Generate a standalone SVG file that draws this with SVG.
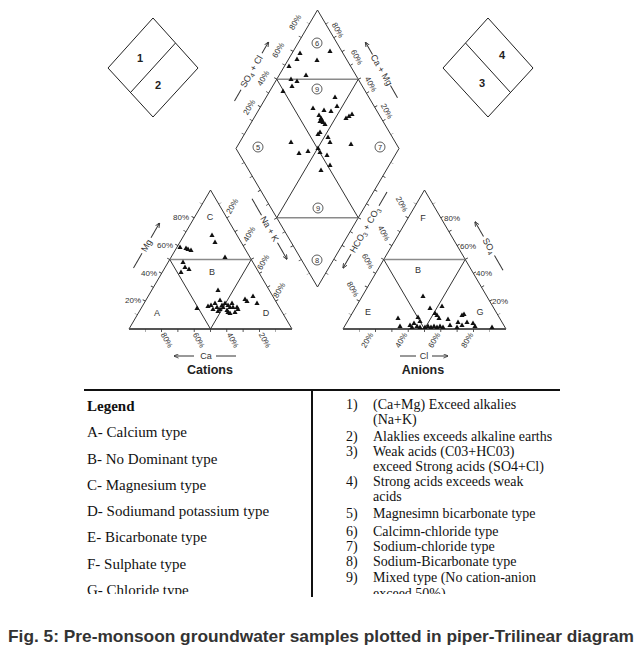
<svg xmlns="http://www.w3.org/2000/svg" xmlns:xlink="http://www.w3.org/1999/xlink" width="642" height="656" viewBox="0 0 642 656">
<style>
.ln{stroke:#333;stroke-width:1;fill:none}
.hl{stroke:#8a8a8a;stroke-width:1.6}
.bs{stroke:#555;stroke-width:2}
.tk{stroke:#333;stroke-width:3;fill:none;stroke-dasharray:0.8 15.3;stroke-dashoffset:0.4}
.tkb{stroke:#333;stroke-width:3;fill:none;stroke-dasharray:0.8 15.5;stroke-dashoffset:0.4}
.pc{font-family:"Liberation Sans",Arial,sans-serif;font-size:8px;fill:#333}
.ax{font-family:"Liberation Sans",Arial,sans-serif;font-size:9px;fill:#333}
.rg{font-family:"Liberation Sans",Arial,sans-serif;font-size:9px;fill:#333;text-anchor:middle}
.cn{font-family:"Liberation Sans",Arial,sans-serif;font-size:7.5px;fill:#333;text-anchor:middle}
.cc{fill:none;stroke:#333;stroke-width:0.8}
.kd{stroke:#222;stroke-width:1;fill:none}
.kn{font-family:"Liberation Sans",Arial,sans-serif;font-size:11px;font-weight:bold;fill:#222;text-anchor:middle}
.lg{font-family:"Liberation Serif","Times New Roman",serif;font-size:15px;fill:#111}
.lr{font-family:"Liberation Serif","Times New Roman",serif;font-size:14px;fill:#111}
.tt{font-family:"Liberation Sans",Arial,sans-serif;font-size:12.5px;font-weight:bold;fill:#222;text-anchor:middle}
.pt{fill:#111}
</style>
<defs>
<path id="t" d="M0,-2.6 L2.6,2 L-2.6,2 Z" class="pt"/>
<marker id="ah" viewBox="0 0 6 6" refX="5.5" refY="3" markerWidth="5" markerHeight="5" markerUnits="userSpaceOnUse" orient="auto-start-reverse">
<path d="M0,0.5 L6,3 L0,5.5" fill="none" stroke="#333" stroke-width="1"/>
</marker>
<clipPath id="lgclip"><rect x="0" y="380" width="642" height="214"/></clipPath>
</defs>
<rect width="642" height="656" fill="#fff"/>

<g id="key-cations">
<path class="kd" d="M153,18 L198,68 L153,117 L108,68 Z M175.5,43 L130.5,92.5"/>
<text class="kn" x="140" y="62">1</text>
<text class="kn" x="158" y="89">2</text>
</g>
<g id="key-anions">
<path class="kd" d="M488,18 L533,68 L488,117 L443,68 Z M465.5,43 L510.5,92.5"/>
<text class="kn" x="502" y="59">4</text>
<text class="kn" x="482" y="87">3</text>
</g>

<g id="diamond">
<path class="ln" d="M317.5,10 L399,148.5 L317.5,287 L236,148.5 Z"/>
<line class="hl" x1="276.75" y1="79.25" x2="358.25" y2="79.25"/>
<line class="hl" x1="276.75" y1="217.75" x2="358.25" y2="217.75"/>
<path class="ln" d="M276.75,79.25 L358.25,217.75 M358.25,79.25 L276.75,217.75"/>
<line class="tk" x1="242.86" y1="133.89" x2="308.06" y2="23.09"/>
<line class="tk" x1="326.94" y1="23.09" x2="392.14" y2="133.89"/>
<line class="tk" x1="242.86" y1="163.11" x2="308.06" y2="273.91"/>
<line class="tk" x1="326.94" y1="273.91" x2="392.14" y2="163.11"/>
<g>
<circle class="cc" cx="317" cy="43" r="5"/><text class="cn" x="317" y="45.7">6</text>
<circle class="cc" cx="317" cy="89" r="5"/><text class="cn" x="317" y="91.7">9</text>
<circle class="cc" cx="258" cy="147" r="5"/><text class="cn" x="258" y="149.7">5</text>
<circle class="cc" cx="380" cy="147" r="5"/><text class="cn" x="380" y="149.7">7</text>
<circle class="cc" cx="318" cy="208" r="5"/><text class="cn" x="318" y="210.7">9</text>
<circle class="cc" cx="317" cy="260" r="5"/><text class="cn" x="317" y="262.7">8</text>
</g>
<g text-anchor="middle">
<text class="pc" transform="translate(295,22) rotate(-60)" y="3">80%</text>
<text class="pc" transform="translate(278,50) rotate(-60)" y="3">60%</text>
<text class="pc" transform="translate(263,78) rotate(-60)" y="3">40%</text>
<text class="pc" transform="translate(249,107) rotate(-60)" y="3">20%</text>
<text class="pc" transform="translate(338,30) rotate(60)" y="3">80%</text>
<text class="pc" transform="translate(357,57) rotate(60)" y="3">60%</text>
<text class="pc" transform="translate(371,84) rotate(60)" y="3">40%</text>
<text class="pc" transform="translate(387,111) rotate(60)" y="3">20%</text>
</g>
<g>
<use href="#t" x="330" y="51"/><use href="#t" x="300" y="53"/><use href="#t" x="297" y="59"/><use href="#t" x="317" y="60"/>
<use href="#t" x="289" y="66"/><use href="#t" x="306" y="75"/><use href="#t" x="291" y="79"/><use href="#t" x="297" y="81"/>
<use href="#t" x="292" y="86"/><use href="#t" x="283" y="91"/><use href="#t" x="335" y="97"/><use href="#t" x="313" y="108"/>
<use href="#t" x="324" y="110"/><use href="#t" x="331" y="111"/><use href="#t" x="337" y="106"/><use href="#t" x="319" y="115"/>
<use href="#t" x="321" y="118"/><use href="#t" x="322" y="120"/><use href="#t" x="323" y="122"/><use href="#t" x="325" y="124"/>
<use href="#t" x="320" y="121"/><use href="#t" x="346" y="118"/><use href="#t" x="349" y="116"/><use href="#t" x="352" y="114"/>
<use href="#t" x="320" y="132"/><use href="#t" x="318" y="134"/><use href="#t" x="328" y="137"/><use href="#t" x="330" y="142"/>
<use href="#t" x="291" y="142"/><use href="#t" x="299" y="153"/><use href="#t" x="308" y="151"/><use href="#t" x="318" y="148"/>
<use href="#t" x="320" y="152"/><use href="#t" x="327" y="155"/><use href="#t" x="351" y="144"/><use href="#t" x="330" y="165"/>
<use href="#t" x="321" y="170"/>
</g>
</g>

<g id="cations-triangle">
<path class="ln" d="M129,329 L210.5,190 L292,329"/>
<line class="bs" x1="129" y1="329" x2="292" y2="329"/>
<line class="hl" x1="169.75" y1="259.5" x2="251.25" y2="259.5"/>
<path class="ln" d="M169.75,259.5 L210.5,329 L251.25,259.5"/>
<line class="tkb" x1="145.3" y1="330.5" x2="275.7" y2="330.5"/>
<line class="tk" x1="135.86" y1="314.34" x2="201.06" y2="203.14"/>
<line class="tk" x1="219.94" y1="203.14" x2="285.14" y2="314.34"/>
<text class="rg" x="210" y="220">C</text>
<text class="rg" x="212" y="275">B</text>
<text class="rg" x="157" y="316">A</text>
<text class="rg" x="266" y="316">D</text>
<g text-anchor="end">
<text class="pc" x="189" y="220">80%</text>
<text class="pc" x="173" y="248">60%</text>
<text class="pc" x="157" y="276">40%</text>
<text class="pc" x="141" y="303">20%</text>
</g>
<g text-anchor="middle">
<text class="pc" transform="translate(232,206) rotate(-60)" y="3">20%</text>
<text class="pc" transform="translate(249,234) rotate(-60)" y="3">40%</text>
<text class="pc" transform="translate(263,262) rotate(-60)" y="3">60%</text>
<text class="pc" transform="translate(279,290) rotate(-60)" y="3">80%</text>
<text class="pc" transform="translate(167,340) rotate(60)" y="3">80%</text>
<text class="pc" transform="translate(199,340) rotate(60)" y="3">60%</text>
<text class="pc" transform="translate(233,340) rotate(60)" y="3">40%</text>
<text class="pc" transform="translate(265,340) rotate(60)" y="3">20%</text>
</g>
<text class="tt" x="210" y="374">Cations</text>
<g>
<use href="#t" x="212" y="235"/><use href="#t" x="215" y="242"/><use href="#t" x="180" y="247"/><use href="#t" x="186" y="248"/>
<use href="#t" x="188" y="249"/><use href="#t" x="191" y="250"/><use href="#t" x="225" y="257"/><use href="#t" x="183" y="262"/>
<use href="#t" x="185" y="267"/><use href="#t" x="189" y="269"/><use href="#t" x="181" y="272"/><use href="#t" x="218" y="290"/>
<use href="#t" x="197" y="308"/><use href="#t" x="208" y="306"/><use href="#t" x="211" y="305"/><use href="#t" x="215" y="303"/>
<use href="#t" x="217" y="307"/><use href="#t" x="220" y="300"/><use href="#t" x="222" y="305"/><use href="#t" x="223" y="307"/>
<use href="#t" x="225" y="303"/><use href="#t" x="227" y="310"/><use href="#t" x="228" y="305"/><use href="#t" x="230" y="307"/>
<use href="#t" x="232" y="303"/><use href="#t" x="233" y="307"/><use href="#t" x="228" y="312"/><use href="#t" x="230" y="313"/>
<use href="#t" x="237" y="307"/><use href="#t" x="220" y="309"/><use href="#t" x="218" y="311"/><use href="#t" x="213" y="309"/>
<use href="#t" x="235" y="312"/><use href="#t" x="245" y="299"/><use href="#t" x="247" y="301"/><use href="#t" x="253" y="296"/>
<use href="#t" x="257" y="303"/><use href="#t" x="238" y="309"/>
</g>
</g>

<g id="anions-triangle">
<path class="ln" d="M343,329 L424.5,190 L506,329"/>
<line class="bs" x1="343" y1="329" x2="506" y2="329"/>
<line class="hl" x1="383.75" y1="259.5" x2="465.25" y2="259.5"/>
<path class="ln" d="M383.75,259.5 L424.5,329 L465.25,259.5"/>
<line class="tkb" x1="359.3" y1="330.5" x2="489.7" y2="330.5"/>
<line class="tk" x1="349.86" y1="314.34" x2="415.06" y2="203.14"/>
<line class="tk" x1="433.94" y1="203.14" x2="499.14" y2="314.34"/>
<text class="rg" x="423" y="221">F</text>
<text class="rg" x="418" y="273">B</text>
<text class="rg" x="368" y="315">E</text>
<text class="rg" x="480" y="315">G</text>
<g>
<text class="pc" x="444" y="221">80%</text>
<text class="pc" x="460" y="249">60%</text>
<text class="pc" x="476" y="276">40%</text>
<text class="pc" x="492" y="304">20%</text>
</g>
<g text-anchor="middle">
<text class="pc" transform="translate(402,204) rotate(60)" y="3">20%</text>
<text class="pc" transform="translate(384,233) rotate(60)" y="3">40%</text>
<text class="pc" transform="translate(368,261) rotate(60)" y="3">60%</text>
<text class="pc" transform="translate(353,289) rotate(60)" y="3">80%</text>
<text class="pc" transform="translate(367,340) rotate(-60)" y="3">20%</text>
<text class="pc" transform="translate(401,340) rotate(-60)" y="3">40%</text>
<text class="pc" transform="translate(434,340) rotate(-60)" y="3">60%</text>
<text class="pc" transform="translate(467,340) rotate(-60)" y="3">80%</text>
</g>
<text class="tt" x="423" y="374">Anions</text>
<g>
<use href="#t" x="423" y="296"/><use href="#t" x="430" y="308"/><use href="#t" x="442" y="306"/><use href="#t" x="435" y="313"/>
<use href="#t" x="437" y="315"/><use href="#t" x="439" y="318"/><use href="#t" x="398" y="318"/><use href="#t" x="418" y="317"/>
<use href="#t" x="420" y="321"/><use href="#t" x="400" y="326"/><use href="#t" x="410" y="325"/><use href="#t" x="412" y="327"/>
<use href="#t" x="414" y="323"/><use href="#t" x="425" y="327"/><use href="#t" x="428" y="326"/><use href="#t" x="431" y="327"/>
<use href="#t" x="434" y="326"/><use href="#t" x="437" y="327"/><use href="#t" x="440" y="326"/><use href="#t" x="443" y="327"/>
<use href="#t" x="448" y="319"/><use href="#t" x="450" y="325"/><use href="#t" x="458" y="322"/><use href="#t" x="462" y="315"/>
<use href="#t" x="464" y="314"/><use href="#t" x="467" y="322"/><use href="#t" x="473" y="323"/><use href="#t" x="475" y="326"/>
<use href="#t" x="492" y="327"/><use href="#t" x="462" y="325"/><use href="#t" x="457" y="327"/><use href="#t" x="420" y="327"/>
<use href="#t" x="417" y="326"/>
</g>
</g>

<g id="axes" class="ln">
<g transform="translate(146.5,245.5) rotate(-60)">
<line x1="-26" y1="0" x2="-9" y2="0"/><line x1="9" y1="0" x2="26" y2="0" marker-end="url(#ah)"/>
<text class="ax" x="0" y="3" text-anchor="middle" stroke="none">Mg</text>
</g>
<g transform="translate(206,356)">
<line x1="-12" y1="0" x2="-32" y2="0" marker-end="url(#ah)"/><line x1="10" y1="0" x2="30" y2="0"/>
<text class="ax" x="0" y="3" text-anchor="middle" stroke="none">Ca</text>
</g>
<g transform="translate(269.5,229) rotate(60)">
<line x1="-35" y1="0" x2="-16" y2="0"/><line x1="16" y1="0" x2="35" y2="0" marker-end="url(#ah)"/>
<text class="ax" x="0" y="3" text-anchor="middle" stroke="none">Na + K</text>
</g>
<g transform="translate(251.5,71.5) rotate(-60)">
<line x1="-34" y1="0" x2="-21" y2="0"/><line x1="21" y1="0" x2="34" y2="0" marker-end="url(#ah)"/>
<text class="ax" x="0" y="3" text-anchor="middle" stroke="none">SO<tspan font-size="6.5" dy="2">4</tspan><tspan dy="-2"> + Cl</tspan></text>
</g>
<g transform="translate(381.5,70) rotate(60)">
<line x1="-32" y1="0" x2="-18" y2="0" marker-start="url(#ah)"/><line x1="18" y1="0" x2="32" y2="0"/>
<text class="ax" x="0" y="3" text-anchor="middle" stroke="none">Ca + Mg</text>
</g>
<g transform="translate(365,230) rotate(-60)">
<line x1="-44" y1="0" x2="-28" y2="0" marker-start="url(#ah)"/><line x1="28" y1="0" x2="44" y2="0"/>
<text class="ax" x="0" y="3" text-anchor="middle" stroke="none">HCO<tspan font-size="6.5" dy="2">3</tspan><tspan dy="-2"> + CO</tspan><tspan font-size="6.5" dy="2">3</tspan></text>
</g>
<g transform="translate(424,356)">
<line x1="-24" y1="0" x2="-8" y2="0"/><line x1="8" y1="0" x2="24" y2="0" marker-end="url(#ah)"/>
<text class="ax" x="0" y="3" text-anchor="middle" stroke="none">Cl</text>
</g>
<g transform="translate(489,246) rotate(60)">
<line x1="-28" y1="0" x2="-11" y2="0" marker-start="url(#ah)"/><line x1="11" y1="0" x2="28" y2="0"/>
<text class="ax" x="0" y="3" text-anchor="middle" stroke="none">SO<tspan font-size="6.5" dy="2">4</tspan></text>
</g>
</g>

<g id="legend">
<line x1="84" y1="390" x2="560" y2="390" stroke="#111" stroke-width="2.2"/>
<line x1="312" y1="390" x2="312" y2="597" stroke="#111" stroke-width="2"/>
<g clip-path="url(#lgclip)">
<text class="lg" x="87" y="411" font-weight="bold">Legend</text>
<text class="lg" x="87" y="437">A- Calcium type</text>
<text class="lg" x="87" y="463.5">B- No Dominant type</text>
<text class="lg" x="87" y="490">C- Magnesium type</text>
<text class="lg" x="87" y="516">D- Sodiumand potassium type</text>
<text class="lg" x="87" y="542">E- Bicarbonate type</text>
<text class="lg" x="87" y="568.5">F- Sulphate type</text>
<text class="lg" x="87" y="595">G- Chloride type</text>
<text class="lr" x="346" y="409">1)</text><text class="lr" x="373" y="409">(Ca+Mg) Exceed alkalies</text>
<text class="lr" x="373" y="424">(Na+K)</text>
<text class="lr" x="346" y="441">2)</text><text class="lr" x="373" y="441">Alaklies exceeds alkaline earths</text>
<text class="lr" x="346" y="456">3)</text><text class="lr" x="373" y="456">Weak acids (C03+HC03)</text>
<text class="lr" x="373" y="471">exceed Strong acids (SO4+Cl)</text>
<text class="lr" x="346" y="486">4)</text><text class="lr" x="373" y="486">Strong acids exceeds weak</text>
<text class="lr" x="373" y="501">acids</text>
<text class="lr" x="346" y="518">5)</text><text class="lr" x="373" y="518">Magnesimn bicarbonate type</text>
<text class="lr" x="346" y="536">6)</text><text class="lr" x="373" y="536">Calcimn-chloride type</text>
<text class="lr" x="346" y="551">7)</text><text class="lr" x="373" y="551">Sodium-chloride type</text>
<text class="lr" x="346" y="566">8)</text><text class="lr" x="373" y="566">Sodium-Bicarbonate type</text>
<text class="lr" x="346" y="582">9)</text><text class="lr" x="373" y="582">Mixed type (No cation-anion</text>
<text class="lr" x="373" y="598">exceed 50%)</text>
</g>
</g>

<g id="caption">
<text x="321" y="642" text-anchor="middle" font-family="'Liberation Sans',Arial,sans-serif" font-size="17" font-weight="bold" fill="#333" textLength="626" lengthAdjust="spacingAndGlyphs">Fig. 5: Pre-monsoon groundwater samples plotted in piper-Trilinear diagram</text>
</g>
</svg>
